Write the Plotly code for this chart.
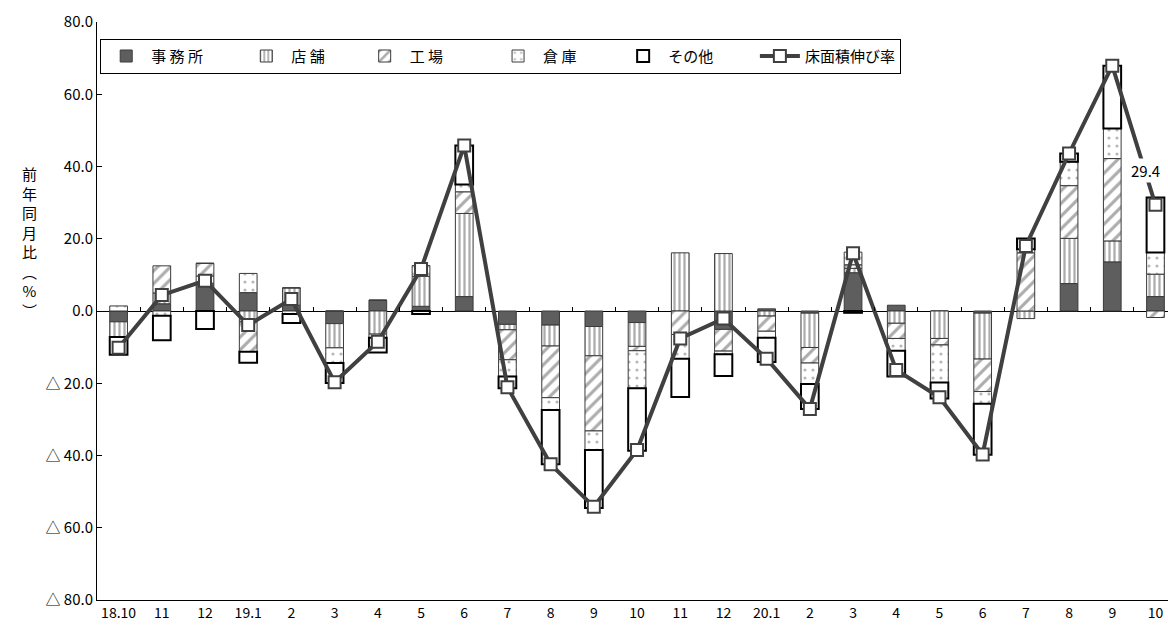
import plotly.graph_objects as go

# ---------------- data ----------------
tick_labels = ["18.10", "11", "12", "19.1", "2", "3", "4", "5", "6", "7", "8", "9",
               "10", "11", "12", "20.1", "2", "3", "4", "5", "6", "7", "8", "9", "10"]

office = [-3.0, 2.0, 7.7, 5.1, 1.6, -3.5, 3.0, 1.3, 4.0, -3.7, -3.9, -4.3,
          -3.2, 0.0, -5.1, 0.6, -0.6, 10.6, 1.6, 0.0, -0.6, 0.0, 7.6, 13.6, 4.0]
store = [-4.2, 3.0, 2.0, -3.0, 4.8, -6.7, -6.4, 8.3, 23.0, -1.5, -5.8, -8.1,
         -6.6, 16.1, 15.9, -1.4, -9.5, 1.2, -3.4, -7.6, -12.7, -2.1, 12.5, 5.8, 6.2]
factory = [0.0, 7.5, 3.5, -8.3, 0.0, 0.0, 0.0, 0.0, 6.0, -8.3, -14.3, -20.8,
           -1.2, -6.5, -6.0, -4.2, -4.3, 1.0, -4.2, -1.8, -9.0, 16.1, 14.6, 22.8, -1.8]
warehouse = [1.4, -1.3, 0.0, 5.3, -0.8, -4.2, -1.0, 3.0, 2.0, -4.6, -3.4, -5.3,
             -10.4, -6.7, -0.9, -1.8, -5.8, 3.5, -3.4, -10.4, -3.4, 1.0, 6.6, 8.3, 6.0]
other = [-4.9, -6.8, -5.0, -3.0, -2.5, -5.5, -4.1, -0.8, 10.8, -3.3, -15.0, -16.0,
         -17.3, -10.6, -6.0, -6.7, -6.9, -0.5, -7.1, -4.4, -14.1, 3.0, 2.3, 17.4, 15.2]
growth = [-10.2, 4.4, 8.4, -3.9, 3.3, -19.7, -8.5, 11.6, 45.8, -21.1, -42.4, -54.2,
          -38.5, -7.6, -2.1, -13.2, -27.1, 16.0, -16.3, -23.9, -39.7, 18.0, 43.6, 67.9, 29.4]

series_names = ["事 務 所", "店 舗", "工 場", "倉 庫", "その他", "床面積伸び率"]

y_tickvals = [80, 60, 40, 20, 0, -20, -40, -60, -80]
y_ticktext = ["80.0", "60.0", "40.0", "20.0", "0.0", "△ 20.0", "△ 40.0", "△ 60.0", "△ 80.0"]

last_label = "29.4"

# ---------------- figure ----------------
x = list(range(len(tick_labels)))
FONT = "Noto Sans CJK JP, Noto Sans, sans-serif"
DARK = "#404040"
BW = 0.41
IS = "\u3000"   # ideographic space used to pad legend entries
NB = "\u00a0"
pad = [IS * 2 + NB, IS * 2, IS * 3, IS * 2 + NB * 2, IS * 2 + NB * 2, ""]

fig = go.Figure()

fig.add_trace(go.Bar(
    x=x, y=office, name=series_names[0] + pad[0], width=BW,
    marker=dict(color="#5e5e5e", line=dict(color="#3a3a3a", width=1)),
))
fig.add_trace(go.Bar(
    x=x, y=store, name=series_names[1] + pad[1], width=BW,
    marker=dict(color="white", line=dict(color="#3a3a3a", width=1),
                pattern=dict(shape="|", fgcolor="#5a5a5a", bgcolor="white",
                             size=5, solidity=0.45)),
))
fig.add_trace(go.Bar(
    x=x, y=factory, name=series_names[2] + pad[2], width=BW,
    marker=dict(color="white", line=dict(color="#3a3a3a", width=1),
                pattern=dict(shape="/", fgcolor="#5a5a5a", bgcolor="white",
                             size=9, solidity=0.35)),
))
fig.add_trace(go.Bar(
    x=x, y=warehouse, name=series_names[3] + pad[3], width=BW,
    marker=dict(color="white", line=dict(color="#3a3a3a", width=1),
                pattern=dict(shape=".", fgcolor="#707070", bgcolor="white",
                             size=8, solidity=0.12)),
))
fig.add_trace(go.Bar(
    x=x, y=other, name=series_names[4] + pad[4], width=BW,
    marker=dict(color="white", line=dict(color="black", width=2)),
))
fig.add_trace(go.Scatter(
    x=x, y=growth, name=series_names[5], mode="lines+markers",
    line=dict(color=DARK, width=4),
    marker=dict(symbol="square", size=12, color="white",
                line=dict(color=DARK, width=2)),
))
# helper axis for the category boundary ticks on the zero line
fig.add_trace(go.Scatter(x=[], y=[], xaxis="x2", showlegend=False, hoverinfo="skip"))

fig.add_annotation(x=23.78, y=38.8, xref="x", yref="y", text=last_label,
                   showarrow=False, bgcolor="white", borderpad=1,
                   font=dict(size=15, color="black", family=FONT))

fig.add_annotation(x=-0.072, y=0.62, xref="paper", yref="paper",
                   text="前<br>年<br>同<br>月<br>比<br>︵<br>%<br>︶",
                   showarrow=False, align="center",
                   font=dict(size=15, color="black", family=FONT))

XR = [-0.5, 24.29]
fig.update_layout(
    width=1168, height=632,
    margin=dict(l=97, r=0, t=22, b=32),
    paper_bgcolor="white", plot_bgcolor="white",
    barmode="relative", bargap=0.59,
    font=dict(family=FONT, size=15, color="black"),
    showlegend=True,
    legend=dict(
        orientation="h", x=0.003, y=0.971, xanchor="left", yanchor="top",
        bordercolor="black", borderwidth=1, bgcolor="white",
        font=dict(size=15, family=FONT, color="black"),
        traceorder="normal", itemwidth=40,
    ),
    xaxis=dict(
        range=XR, tickmode="array", tickvals=x, ticktext=tick_labels,
        showline=True, linecolor="black", linewidth=1, ticks="",
        showgrid=False, zeroline=False, tickfont=dict(size=14, family=FONT),
        mirror=False,
    ),
    xaxis2=dict(
        overlaying="x", anchor="free", position=0.5, side="top",
        range=XR, tickmode="array", tickvals=[i + 0.5 for i in x[:-1]],
        showticklabels=False, ticks="outside", ticklen=4, tickcolor="black",
        showline=False, showgrid=False, zeroline=False,
    ),
    yaxis=dict(
        range=[-80, 80], tickmode="array", tickvals=y_tickvals, ticktext=y_ticktext,
        showline=True, linecolor="black", linewidth=1,
        ticks="inside", ticklen=5, tickcolor="black",
        showgrid=False, zeroline=True, zerolinecolor="black", zerolinewidth=1,
        tickfont=dict(size=15, family=FONT),
    ),
)

fig.write_html("out.html")
